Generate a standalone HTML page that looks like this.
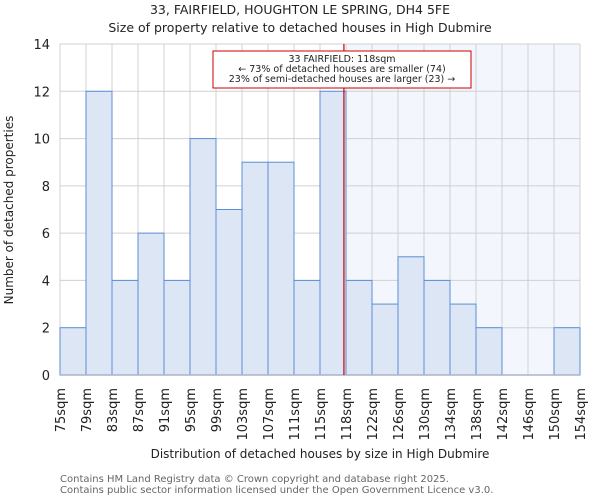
<!DOCTYPE html>
<html><head><meta charset="utf-8"><style>
body{margin:0;background:#fff;font-family:"DejaVu Sans","Liberation Sans",sans-serif;}
text{font-family:"DejaVu Sans","Liberation Sans",sans-serif;}
</style></head><body>
<svg id="chart" width="600" height="500" xmlns="http://www.w3.org/2000/svg">
<text x="300" y="14" font-size="12.5" text-anchor="middle" fill="#222">33, FAIRFIELD, HOUGHTON LE SPRING, DH4 5FE</text>
<text x="300" y="32" font-size="12.5" text-anchor="middle" fill="#222">Size of property relative to detached houses in High Dubmire</text>
<g id="plot"></g>
<text transform="translate(13,210) rotate(-90)" font-size="12" text-anchor="middle" fill="#222">Number of detached properties</text>
<text x="320" y="458" font-size="12" text-anchor="middle" fill="#222">Distribution of detached houses by size in High Dubmire</text>
<text x="60" y="482" font-size="10" fill="#666">Contains HM Land Registry data © Crown copyright and database right 2025.</text>
<text x="60" y="493" font-size="10" fill="#666">Contains public sector information licensed under the Open Government Licence v3.0.</text>
</svg>
<script>
const categories=["75sqm","79sqm","83sqm","87sqm","91sqm","95sqm","99sqm","103sqm","107sqm","111sqm","115sqm","118sqm","122sqm","126sqm","130sqm","134sqm","138sqm","142sqm","146sqm","150sqm","154sqm"];
const counts=[2,12,4,6,4,10,7,9,9,4,12,4,3,5,4,3,2,0,0,2];
const yTicks=[0,2,4,6,8,10,12,14];
const subjectBin=10.92;
const highlightFrom=11;
const NS="http://www.w3.org/2000/svg";
const g=document.getElementById('plot');
const X0=60,X1=580,Y0=375,Y1=44,yMax=14;
const nb=counts.length;
const x=i=>X0+(X1-X0)*i/nb;
const y=v=>Y0-(Y0-Y1)*v/yMax;
function mk(t,a){const e=document.createElementNS(NS,t);for(const k in a)e.setAttribute(k,a[k]);g.appendChild(e);return e;}
let r=mk('rect',{x:x(highlightFrom),y:Y1,width:X1-x(highlightFrom),height:Y0-Y1,fill:'#f3f6fd'});


for(let i=0;i<=nb;i++){let l=mk('line',{x1:x(i),x2:x(i),y1:Y1,y2:Y0,stroke:'#d0d0d0','stroke-width':1});

}
yTicks.forEach(t=>{let l=mk('line',{x1:X0,x2:X1,y1:y(t),y2:y(t),stroke:'#d0d0d0','stroke-width':1});


let tx=mk('text',{x:X0-10,y:y(t)+5,'font-size':13,'text-anchor':'end',fill:'#222'});tx.textContent=t;

});
counts.forEach((c,i)=>{if(c<=0)return;let b=mk('rect',{x:x(i),y:y(c),width:x(i+1)-x(i),height:Y0-y(c),fill:'#dce6f4',stroke:'#5b8fd6','stroke-width':1});

});
let ax=mk('line',{x1:X0,x2:X1,y1:Y0,y2:Y0,stroke:'#aab4c8','stroke-width':1.5});


categories.forEach((c,i)=>{let t=mk('text',{transform:`translate(${x(i)+5},388) rotate(-90)`,'font-size':13,'text-anchor':'end',fill:'#222'});t.textContent=c;

});
const mx=x(subjectBin);
let ml=mk('line',{x1:mx,x2:mx,y1:Y1,y2:Y0,stroke:'#cc0000','stroke-width':1.2});


let bx=mk('rect',{x:213,y:51,width:258,height:37,fill:'#fff',stroke:'#cc0000','stroke-width':1});


["33 FAIRFIELD: 118sqm","← 73% of detached houses are smaller (74)","23% of semi-detached houses are larger (23) →"].forEach((s,i)=>{let t=mk('text',{x:342,y:62+i*10,'font-size':9.5,'text-anchor':'middle',fill:'#222'});t.textContent=s;

});
</script>
</body></html>
